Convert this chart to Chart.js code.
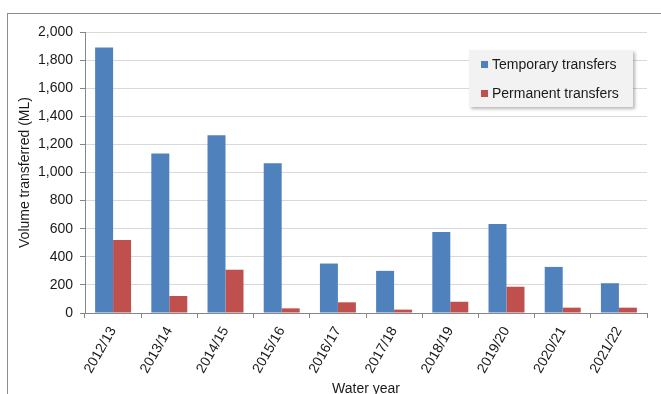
<!DOCTYPE html>
<html>
<head>
<meta charset="utf-8">
<script src="https://cdn.jsdelivr.net/npm/chart.js@4"></script>
<style>
  html, body { margin: 0; padding: 0; background: #fff; }
  #wrap { position: relative; width: 661px; height: 394px; overflow: hidden; font-family: "Liberation Sans", Arial, sans-serif; }
  #frame { position: absolute; left: 7px; top: 13px; width: 700px; height: 420px; border: 1px solid #8c8c8c; box-sizing: border-box; }
  #c { position: absolute; left: 0; top: 0; }
  #legend { position: absolute; left: 469px; top: 50px; width: 164px; height: 57px; background: #f2f2f2; box-shadow: 2px 2px 3px rgba(0,0,0,0.28); box-sizing: border-box; }
  .item { position: absolute; left: 12px; height: 16px; line-height: 16px; font-size: 14px; color: #1a1a1a; white-space: nowrap; }
  .sw { display: inline-block; width: 7px; height: 7px; margin-right: 4px; vertical-align: 1px; }
</style>
</head>
<body>
<div id="wrap">
  <div id="frame"></div>
  <canvas id="c" width="661" height="394"></canvas>
  <div id="legend"></div>
</div>
<script>
const categories = ['2012/13','2013/14','2014/15','2015/16','2016/17','2017/18','2018/19','2019/20','2020/21','2021/22'];
const temporaryTransfers = [1890, 1135, 1265, 1065, 352, 300, 577, 633, 328, 212];
const permanentTransfers = [520, 121, 308, 33, 76, 24, 80, 187, 38, 38];
const seriesNames = ['Temporary transfers', 'Permanent transfers'];
const seriesColors = ['#4F81BD', '#C0504D'];
const yMin = 0, yMax = 2000, yStep = 200;
const xTitle = 'Water year';
const yTitle = 'Volume transferred (ML)';

const font = { family: '"Liberation Sans", Arial, sans-serif', size: 14 };

new Chart(document.getElementById('c'), {
  type: 'bar',
  data: {
    labels: categories,
    datasets: [
      { label: seriesNames[0], data: temporaryTransfers, backgroundColor: seriesColors[0], barPercentage: 1, categoryPercentage: 0.64 },
      { label: seriesNames[1], data: permanentTransfers, backgroundColor: seriesColors[1], barPercentage: 1, categoryPercentage: 0.64 }
    ]
  },
  options: {
    responsive: false,
    animation: false,
    layout: { padding: { top: 32, right: 14, left: 0, bottom: 0 } },
    plugins: { legend: { display: false }, tooltip: { enabled: false } },
    scales: {
      x: {
        offset: true,
        grid: { offset: true, drawOnChartArea: false, drawTicks: true, tickLength: 5, color: '#868686' },
        border: { color: '#868686', width: 1 },
        ticks: { minRotation: 60, maxRotation: 60, font: font, color: '#1a1a1a', padding: 6 },
        title: { display: true, text: xTitle, font: font, color: '#1a1a1a', padding: { top: 0, bottom: -4 } },
        afterFit: s => { s.height = 81; }
      },
      y: {
        min: yMin, max: yMax,
        grid: { color: '#d9d9d9', tickColor: '#868686', tickLength: 5, drawTicks: true },
        border: { color: '#868686', width: 1 },
        ticks: { stepSize: yStep, font: font, color: '#1a1a1a', padding: 7,
                 callback: v => v.toLocaleString('en-US') },
        title: { display: true, text: yTitle, font: font, color: '#1a1a1a', padding: { top: 16.5, bottom: 0 } },
        afterFit: s => { s.width = 85; }
      }
    }
  }
});

const leg = document.getElementById('legend');
const rowTops = [6, 35];
seriesNames.forEach((n, i) => {
  const d = document.createElement('div');
  d.className = 'item';
  d.style.top = rowTops[i] + 'px';
  const sw = document.createElement('span');
  sw.className = 'sw';
  sw.style.background = seriesColors[i];
  d.appendChild(sw);
  d.appendChild(document.createTextNode(n));
  leg.appendChild(d);
});
</script>
</body>
</html>
